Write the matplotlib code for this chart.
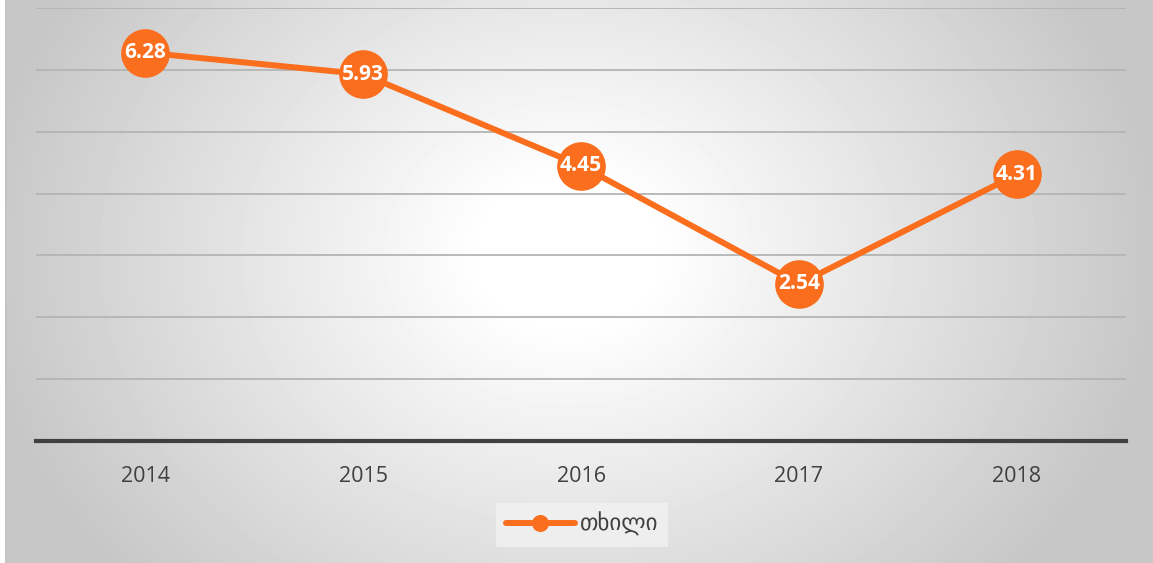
import numpy as np
import matplotlib
matplotlib.use("Agg")
import matplotlib.pyplot as plt

years = ["2014", "2015", "2016", "2017", "2018"]
values = [6.28, 5.93, 4.45, 2.54, 4.31]
series_name = "თხილი"

W, H = 1153, 563
fig = plt.figure(figsize=(W / 100, H / 100), dpi=100)
fig.patch.set_facecolor("white")

# radial gradient background
bg = fig.add_axes([5 / W, 0, 1 - 5 / W, 1], zorder=0)
yy, xx = np.mgrid[0:H, 0:W - 5]
cx, cy = 0.49 * (W - 5), 0.45 * H
r = np.sqrt(((xx - cx) / (W * 0.62)) ** 2 + ((yy - cy) / (H * 1.05)) ** 2)
t = np.clip((r - 0.12) / 0.70, 0, 1)
v = 1.0 - t * (1.0 - 0.78)
bg.imshow(v, cmap="gray", vmin=0, vmax=1, aspect="auto", interpolation="bilinear")
bg.set_axis_off()
fig.add_artist(plt.Line2D([5.5 / W, 5.5 / W], [0, 1], color="#c4c4c4", lw=1.2))

ax = fig.add_axes([36 / W, 1 - 441 / H, 1090 / W, 433 / H], zorder=1)
ax.patch.set_alpha(0)
x = np.arange(len(years))
orange = "#FA6E1E"
ax.plot(x, values, color=orange, lw=4.3, marker="o", markersize=34,
        markerfacecolor=orange, markeredgecolor=orange, label=series_name,
        solid_capstyle="round", zorder=3)
for xi, vi in zip(x, values):
    ax.text(xi, vi, f"{vi:.2f}", color="white", ha="center", va="center",
            fontsize=15, fontweight="bold", family="Open Sans", zorder=4)

ax.set_xlim(-0.5, len(years) - 0.5)
ax.set_ylim(0, 7)
ax.set_yticks(np.arange(0, 8, 1))
ax.yaxis.grid(True, color="#b4b4b4", lw=1.3)
ax.set_axisbelow(True)
ax.tick_params(axis="y", left=False, labelleft=False)
ax.set_xticks(x)
ax.set_xticklabels(years, family="Open Sans", fontsize=15.5, color="#404040")
ax.tick_params(axis="x", length=0, pad=18)
for s in ["top", "right", "left"]:
    ax.spines[s].set_visible(False)
ax.spines["bottom"].set_color("#404040")
ax.spines["bottom"].set_linewidth(3)

leg = ax.legend(loc="center", bbox_to_anchor=(582 / W, 1 - 525 / H),
                bbox_transform=fig.transFigure, frameon=True, fancybox=False,
                prop={"family": ["Open Sans", "DejaVu Sans"], "size": 16.5},
                handlelength=3.0, handletextpad=0.2, borderpad=0.45,
                markerscale=0.33)
leg.get_frame().set_facecolor("#f2f2f2")
leg.get_frame().set_edgecolor("none")
for txt in leg.get_texts():
    txt.set_color("#404040")

fig.savefig("out.png", dpi=100)
